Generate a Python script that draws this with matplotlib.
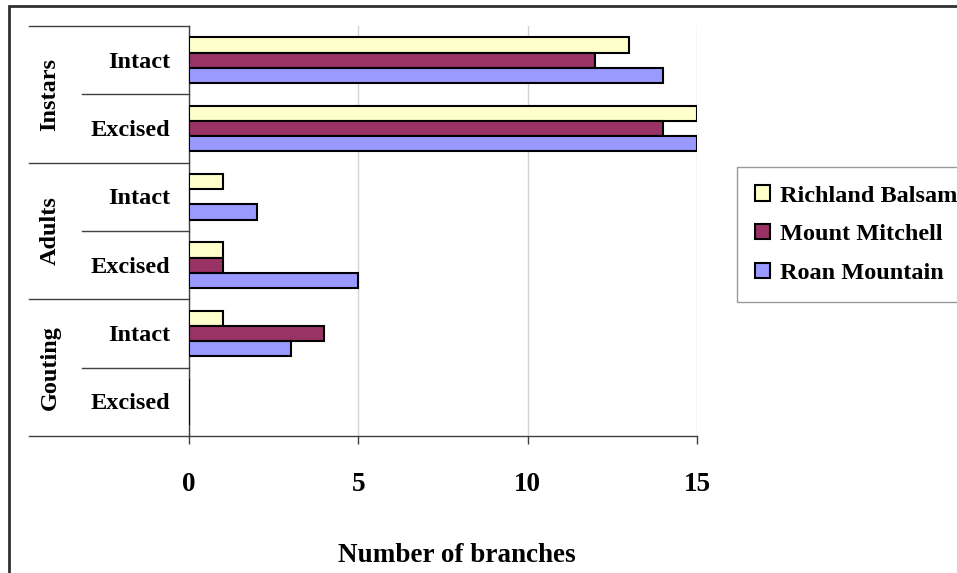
import matplotlib.pyplot as plt
import numpy as np
from matplotlib.patches import Rectangle, Patch
from matplotlib.lines import Line2D

plt.rcParams['font.family'] = ['Liberation Serif', 'DejaVu Serif']
plt.rcParams['font.weight'] = 'bold'

# 分类：虫态组 / 处理方式（从上到下）
groups = ['Instars', 'Adults', 'Gouting']
treatments = ['Intact', 'Excised']
series_names = ['Richland Balsam', 'Mount Mitchell', 'Roan Mountain']
series_colors = ['#FFFFCC', '#993366', '#9999FF']

# 各地点的枝条数（顺序同分类：Instars Intact, Instars Excised, Adults Intact, ...）
richland_balsam = [13, 15, 1, 1, 1, 0]
mount_mitchell = [12, 14, 0, 1, 4, 0]
roan_mountain = [14, 15, 2, 5, 3, 0]
x_ticks = [0, 5, 10, 15]

W, H = 957, 573
fig = plt.figure(figsize=(W / 100, H / 100), dpi=100)

# 图区位置（像素换算）
left_px, right_px, top_px, bottom_px = 189, 697, 26, 436
ax = fig.add_axes([left_px / W, 1 - bottom_px / H,
                   (right_px - left_px) / W, (bottom_px - top_px) / H])

n_cat = len(groups) * len(treatments)
y = np.arange(n_cat)
bar_h = 0.224
all_series = [richland_balsam, mount_mitchell, roan_mountain]
for k, (vals, name, col) in enumerate(zip(all_series, series_names, series_colors)):
    ax.barh(y + (k - 1) * bar_h, vals, height=bar_h, color=col,
            edgecolor='black', linewidth=1.5, label=name, zorder=3)

ax.set_xlim(0, 15)
ax.set_ylim(n_cat - 0.5, -0.5)
ax.set_xticks(x_ticks)
ax.set_xticklabels([str(t) for t in x_ticks])
ax.tick_params(axis='x', direction='out', length=6, width=1, color='#404040',
               pad=20, labelsize=19.5)
for lab in ax.get_xticklabels():
    lab.set_fontweight('bold')
ax.set_yticks([])
ax.grid(axis='x', color='#d4d4d4', linewidth=1, zorder=0)
for s in ['top', 'right']:
    ax.spines[s].set_visible(False)
for s in ['left', 'bottom']:
    ax.spines[s].set_color('#404040')
    ax.spines[s].set_linewidth(1)

# 多级分类轴：分隔线与标签
ytr = ax.get_yaxis_transform()
outer_x = (29 - left_px) / (right_px - left_px)
inner_x = (82 - left_px) / (right_px - left_px)
for gi in range(len(groups) + 1):
    yy = gi * len(treatments) - 0.5
    ax.add_line(Line2D([outer_x, 0], [yy, yy], transform=ytr, color='#404040',
                       linewidth=1, clip_on=False))
for gi in range(len(groups)):
    yy = gi * len(treatments) + 0.5
    ax.add_line(Line2D([inner_x, 0], [yy, yy], transform=ytr, color='#404040',
                       linewidth=1, clip_on=False))

sub_x = (170 - left_px) / (right_px - left_px)
grp_x = (50 - left_px) / (right_px - left_px)
for gi, g in enumerate(groups):
    for ti, t in enumerate(treatments):
        ax.text(sub_x, gi * len(treatments) + ti + 0.03, t, transform=ytr,
                ha='right', va='center', fontsize=17.5, fontweight='bold')
    ax.text(grp_x, gi * len(treatments) + 0.5, g, transform=ytr, ha='center',
            va='center', rotation=90, fontsize=17.5, fontweight='bold')

fig.text(457 / W, 1 - 556 / H, 'Number of branches', ha='center', va='center',
         fontsize=19.5, fontweight='bold')

# 图例
handles = [Patch(facecolor=c, edgecolor='black', linewidth=1.5) for c in series_colors]
leg = fig.legend(handles, series_names, loc='upper left',
                 bbox_to_anchor=(737 / W, 1 - 167 / H), borderaxespad=0,
                 fancybox=False, frameon=True, edgecolor='#808080',
                 prop={'size': 17.5, 'weight': 'bold'}, handlelength=0.6,
                 handleheight=0.6, handletextpad=0.4, labelspacing=0.72,
                 borderpad=0.75)
leg.get_frame().set_linewidth(1)

# 图表外框
fig.patches.append(Rectangle((9 / W, -0.02), 1.02, 1 - 6 / H + 0.02,
                             transform=fig.transFigure, fill=False,
                             edgecolor='#303030', linewidth=2))

fig.savefig('out.png', dpi=100)
